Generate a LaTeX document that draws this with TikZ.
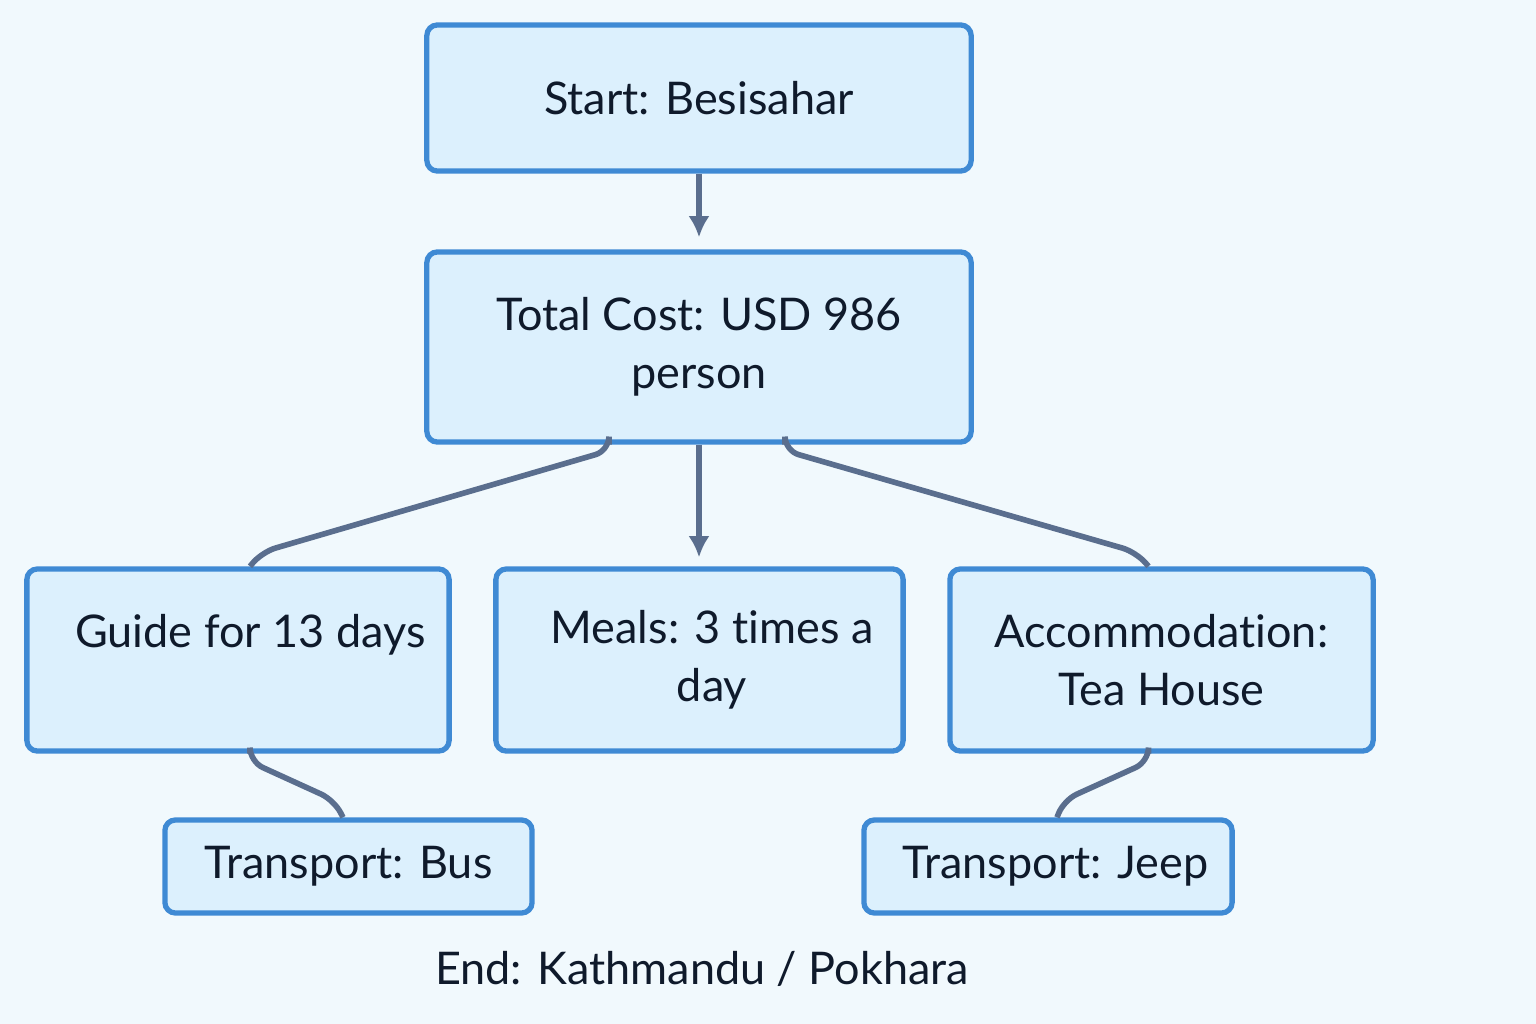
\documentclass[tikz,border=0pt]{standalone}
\usepackage{fontspec}
\setmainfont{Lato}[Ligatures=NoCommon]
\usetikzlibrary{arrows.meta}
\definecolor{bgcol}{HTML}{F1F9FD}
\definecolor{boxfill}{HTML}{DCF0FD}
\definecolor{boxline}{HTML}{3F8AD4}
\definecolor{linkcol}{HTML}{5A6E8E}
\definecolor{txtcol}{HTML}{0F1A2B}
\tikzstyle{mybox}=[draw=boxline,fill=boxfill,line width=1.5pt,rounded corners=3pt,align=center,text=txtcol,inner sep=0pt]
\tikzstyle{mylink}=[linkcol,line width=1.6pt,rounded corners=4pt]
\tikzstyle{myarrow}=[linkcol,line width=1.6pt,>={Latex[length=6pt,width=6pt]},->]

\begin{document}
\begin{tikzpicture}[x=0.01cm,y=-0.01cm,font=\fontsize{12.8}{16.5}\selectfont]
		\fill[bgcol] (0,0) rectangle (1536,1024);

		\node[mybox,minimum width=5.44cm,minimum height=1.46cm] (start) at (699,98) {Start: Besisahar};
		\node[mybox,minimum width=5.44cm,minimum height=1.90cm] (total) at (699,347) {Total Cost: USD 986\\person};

		\node[mybox,minimum width=4.22cm,minimum height=1.82cm] (guide) at (238,660) {\hspace{0.25cm}Guide for 13 days\\\mbox{}};
		\node[mybox,minimum width=4.07cm,minimum height=1.82cm] (meals) at (699.5,660) {\hspace{0.25cm}Meals: 3 times a\\\hspace{0.25cm}day};
		\node[mybox,minimum width=4.23cm,minimum height=1.82cm] (accom) at (1161.5,660) {Accommodation:\\Tea House};

		\node[mybox,minimum width=3.67cm,minimum height=0.93cm] (bus) at (348.5,866.5) {Transport: Bus};
		\node[mybox,minimum width=3.68cm,minimum height=0.93cm] (jeep) at (1048,866.5) {\hspace{0.15cm}Transport: Jeep};

		\node[text=txtcol] (end) at (702,969) {End: Kathmandu / Pokhara};

%		arrows straight down
		\draw[myarrow,shorten >=0.12cm] (start.south) -- (total.north);
		\draw[myarrow,shorten >=0.09cm] (total.south) -- (total.south |- meals.north);

%		bent links
		\draw[mylink] ([xshift=-0.9cm]total.south) -- ++(0,6) -- (262,552) -- ([xshift=0.12cm]guide.north);
		\draw[mylink] ([xshift=0.86cm]total.south) -- ++(0,6) -- (1136,552) -- ([xshift=-0.13cm]accom.north);
		\draw[mylink] ([xshift=0.12cm]guide.south) -- ++(0,8) -- (334,800) -- ([xshift=-0.055cm]bus.north);
		\draw[mylink] ([xshift=-0.13cm]accom.south) -- ++(0,8) -- (1064,800) -- ([xshift=0.09cm]jeep.north);
	\end{tikzpicture}
\end{document}
